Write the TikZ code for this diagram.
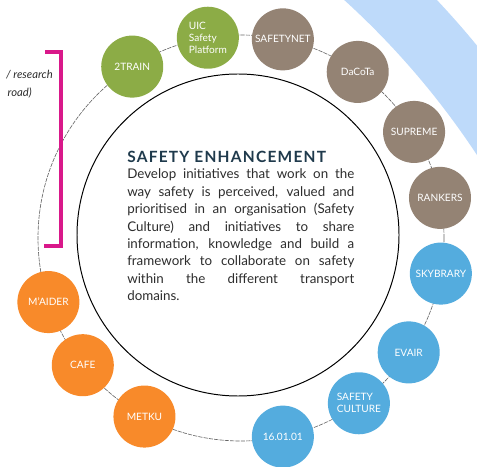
\documentclass[tikz,border=0pt]{standalone}
\usepackage{fontspec}
\setmainfont{Lato}
\usetikzlibrary{positioning,calc}
\definecolor{ballgreen}{RGB}{140,172,70}
\definecolor{ballbrown}{RGB}{148,131,116}
\definecolor{ballblue}{RGB}{84,172,222}
\definecolor{ballorange}{RGB}{248,138,42}
\definecolor{bandblue}{RGB}{190,218,250}
\definecolor{bracketpink}{RGB}{217,24,138}
\definecolor{headnavy}{RGB}{31,58,76}
\definecolor{bodygrey}{RGB}{45,45,45}
\tikzset{
  ball/.style={circle,inner sep=0pt,minimum size=1.55cm,text=white,align=center,font=\fontsize{7.2}{8.4}\selectfont},
  greenball/.style={ball,fill=ballgreen},
  brownball/.style={ball,fill=ballbrown},
  blueball/.style={ball,fill=ballblue},
  orangeball/.style={ball,fill=ballorange},
  ring/.style={draw=gray!80!black,line width=0.45pt,dash pattern=on 3pt off 0.8pt},
  core/.style={draw=black,line width=0.7pt},
  bracket/.style={draw=bracketpink,line width=2.2pt,line join=miter},
  sidenote/.style={inner sep=0pt,text=bodygrey,font=\itshape\fontsize{8}{9}\selectfont},
  headline/.style={inner sep=0pt,text=headnavy,font=\bfseries\fontsize{11}{13}\selectfont\addfontfeatures{LetterSpace=8}},
  bodytext/.style={inner sep=0pt,text=bodygrey,text width=5.675cm,align=justify,font=\fontsize{9.5}{12.4}\selectfont}
}
\begin{document}
\begin{tikzpicture}[x=0.025cm,y=0.025cm]
  \useasboundingbox (0,0) rectangle (477,466);
  \coordinate (O) at (241,228);
  \coordinate (I) at (238,231);
  \coordinate (B) at (-200,-134);
  % light blue band at the top right
  \begin{scope}
    \clip (0,0) rectangle (477,466);
    \fill[bandblue,even odd rule] (B) circle (875) (B) circle (810);
  \end{scope}
  % rings
  \draw[ring] (O) circle (203);
  \draw[core] (I) circle (161);
  % rail
  \node[greenball] (twotrain) at ($(O)+(122.4:203)$) {2TRAIN};
  \node[greenball,align=left] (uic) at ($(O)+(99.4:203)$) {UIC\\Safety\\Platform};
  % road
  \node[brownball] (safetynet) at ($(O)+(78.1:203)$) {SAFETYNET};
  \node[brownball] (dacota) at ($(O)+(54.9:203)$) {DaCoTa};
  \node[brownball] (supreme) at ($(O)+(31.5:203)$) {SUPREME};
  \node[brownball] (rankers) at ($(O)+(11.4:203)$) {RANKERS};
  % air
  \node[blueball] (skybrary) at ($(O)+(-10.1:203)$) {SKYBRARY};
  \node[blueball] (evair) at ($(O)+(-34.3:203)$) {EVAIR};
  \node[blueball,align=left] (safetyculture) at ($(O)+(-54.5:203)$) {SAFETY\\CULTURE};
  \node[blueball] (sixteen) at ($(O)+(-78.1:203)$) {16.01.01};
  % sea
  \node[orangeball] (metku) at ($(O)+(-118.4:203)$) {METKU};
  \node[orangeball] (cafe) at ($(O)+(-141.2:203)$) {CAFE};
  \node[orangeball] (maider) at ($(O)+(-161.6:203)$) {M'AIDER};
  % bracket and side text
  \draw[bracket] (45,414) -- (61,414) -- (61,220) -- (44,220);
  \node[sidenote,anchor=east] (research) at (53,391) {/ research};
  \node[sidenote,anchor=east] (road) at (32,373) {road)};
  % centre text
  \node[headline,anchor=west] (title) at (127,309) {SAFETY ENHANCEMENT};
  \node[bodytext,below=4pt of title.south west,anchor=north west] (body) {Develop initiatives that work on the\linebreak
    way safety is perceived, valued and\linebreak
    prioritised in an organisation (Safety\linebreak
    Culture) and initiatives to share\linebreak
    information, knowledge and build a\linebreak
    framework to collaborate on safety\linebreak
    within the different transport\linebreak
    domains.};
\end{tikzpicture}
\end{document}
